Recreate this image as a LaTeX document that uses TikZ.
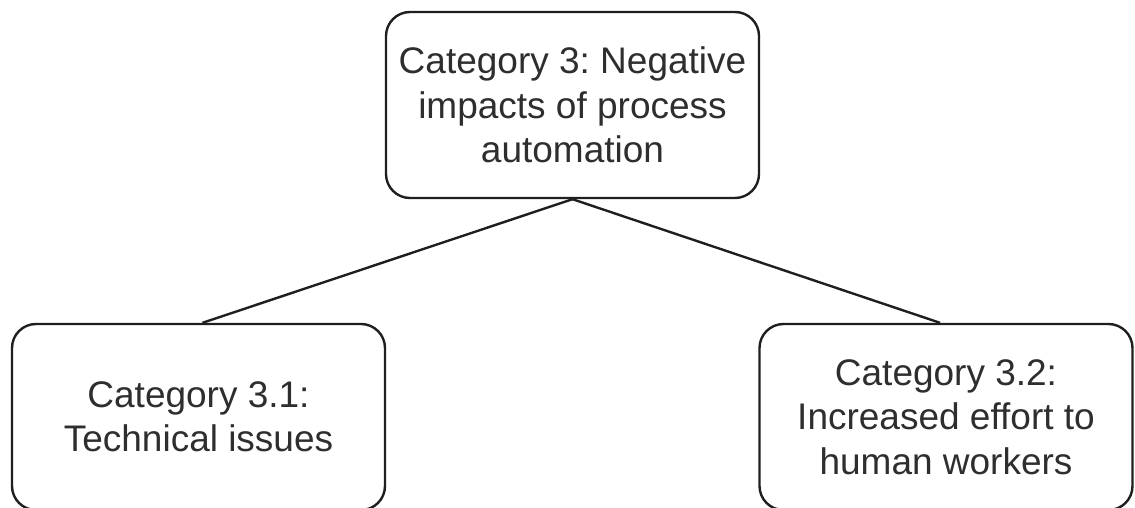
\documentclass[tikz,border=0pt]{standalone}
\usepackage{fontspec}
\setmainfont{Liberation Sans}
\frenchspacing
\begin{document}
\begin{tikzpicture}[x=1pt,y=1pt,
  catbox/.style={draw=black!88, line width=2.4pt, rounded corners=24pt,
    minimum width=373pt, minimum height=186pt, align=center, inner sep=0pt,
    text=black!82, font=\fontsize{37}{44.5}\selectfont},
  link/.style={draw=black!88, line width=2.4pt}]
  \useasboundingbox (0,0) rectangle (1135,-508);
  \node[catbox] (top) at (572.5,-105) {Category 3: Negative\\impacts of process\\automation};
  \node[catbox] (left) at (198.5,-417) {Category 3.1:\\Technical issues};
  \node[catbox] (right) at (946,-417) {Category 3.2:\\Increased effort to\\human workers};
  \draw[link] (top.south) -- ([xshift=4pt]left.north);
  \draw[link] (top.south) -- ([xshift=-6pt]right.north);
\end{tikzpicture}
\end{document}
